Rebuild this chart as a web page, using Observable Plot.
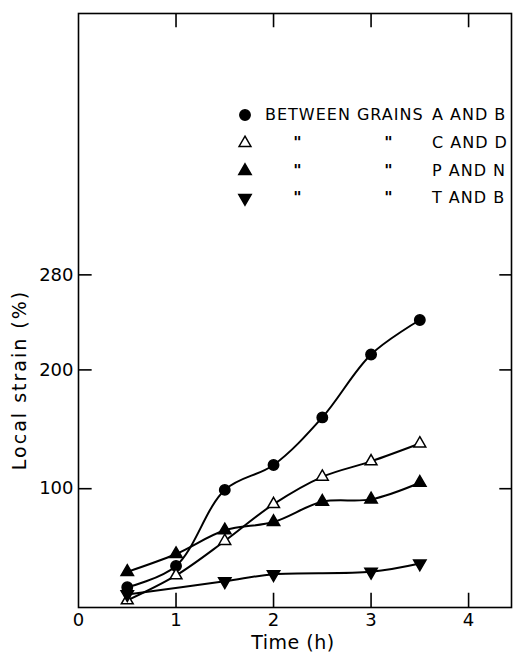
<!DOCTYPE html>
<html>
<head>
<meta charset="utf-8">
<script src="https://cdn.jsdelivr.net/npm/d3@7"></script>
<script src="https://cdn.jsdelivr.net/npm/@observablehq/plot@0.6"></script>
<style>
  html, body { margin: 0; padding: 0; background: #fff; }
  #chart { width: 514px; height: 657px; }
</style>
</head>
<body>
<div id="chart"></div>
<script>
// ---- data ----
const times = [0.5, 1, 1.5, 2, 2.5, 3, 3.5];
const strainAB = [17, 35, 99, 120, 160, 213, 242];
const strainCD = [6, 27, 56, 87, 110, 123, 138];
const strainPN = [30, 45, 65, 72, 89, 91, 105];
const timesTB = [0.5, 1.5, 2, 3, 3.5];
const strainTB = [11, 22, 28, 30, 37];

const xTicks = [0, 1, 2, 3, 4];
const yTicks = [100, 200, 280];
const legendPairs = ["A AND B", "C AND D", "P AND N", "T AND B"];
const legendLead = "BETWEEN GRAINS";
const xLabel = "Time (h)";
const yLabel = "Local strain (%)";

// custom downward triangle symbol
const triangleDown = {
  draw(context, size) {
    const h = Math.sqrt(size / (Math.sqrt(3) * 3));
    const s = h * Math.sqrt(3);
    context.moveTo(0, 2 * h);
    context.lineTo(s, -h);
    context.lineTo(-s, -h);
    context.closePath();
  }
};

const toRows = (xs, ys) => xs.map((t, i) => ({t, v: ys[i]}));
const AB = toRows(times, strainAB);
const CD = toRows(times, strainCD);
const PN = toRows(times, strainPN);
const TB = toRows(timesTB, strainTB);

const lineOpts = {x: "t", y: "v", curve: "catmull-rom", stroke: "black", strokeWidth: 2};

const W = 514, H = 657;
const plot = Plot.plot({
  width: W,
  height: H,
  marginLeft: 78,
  marginRight: 3,
  marginTop: 13,
  marginBottom: 50,
  style: {fontFamily: "DejaVu Sans", fontSize: "18px", background: "#fff", color: "#000"},
  x: {domain: [0, 4.44]},
  y: {domain: [0, 500]},
  marks: [
    Plot.frame({stroke: "black", strokeWidth: 1.6}),
    // inward ticks
    Plot.ruleX(xTicks.slice(1), {x: d => d, y1: 0, y2: 12, stroke: "black", strokeWidth: 1.6}),
    Plot.ruleX(xTicks.slice(1), {x: d => d, y1: 500, y2: 488, stroke: "black", strokeWidth: 1.6}),
    Plot.ruleY(yTicks, {y: d => d, x1: 0, x2: 0.14, stroke: "black", strokeWidth: 1.6}),
    Plot.ruleY(yTicks, {y: d => d, x1: 4.32, x2: 4.44, stroke: "black", strokeWidth: 1.6}),
    Plot.axisX({ticks: xTicks, tickSize: 0, tickPadding: 6, label: null, tickFormat: d => String(d)}),
    Plot.axisY({ticks: yTicks, tickSize: 0, tickPadding: 5, label: null, tickFormat: d => String(d)}),
    // lines
    Plot.line(AB, lineOpts),
    Plot.line(CD, lineOpts),
    Plot.line(PN, lineOpts),
    Plot.line(TB, lineOpts),
    // markers
    Plot.dot(AB, {x: "t", y: "v", symbol: "circle", r: 5.2, fill: "black", stroke: "black"}),
    Plot.dot(CD, {x: "t", y: "v", symbol: "triangle", r: 4.4, fill: "white", stroke: "black", strokeWidth: 1.5}),
    Plot.dot(PN, {x: "t", y: "v", symbol: "triangle", r: 4.6, fill: "black", stroke: "black"}),
    Plot.dot(TB, {x: "t", y: "v", symbol: triangleDown, r: 4.6, fill: "black", stroke: "black"})
  ]
});

document.getElementById("chart").appendChild(plot);

// axis titles and legend
const svg = d3.select(plot);
svg.append("text")
  .attr("x", 293).attr("y", 643)
  .attr("text-anchor", "middle").attr("dominant-baseline", "middle")
  .attr("font-size", 19).attr("letter-spacing", 0.5)
  .text(xLabel);
svg.append("text")
  .attr("transform", "translate(20,380) rotate(-90)")
  .attr("text-anchor", "middle").attr("dominant-baseline", "middle")
  .attr("font-size", 19).attr("letter-spacing", 2)
  .text(yLabel);

const lg = svg.append("g").attr("font-size", 16).attr("letter-spacing", 1).attr("text-anchor", "start");
const rowY = [115, 143, 171, 198];
const symbols = [
  {type: d3.symbolCircle, size: Math.PI * 5.2 * 5.2, fill: "black"},
  {type: d3.symbolTriangle, size: Math.PI * 4.4 * 4.4, fill: "white"},
  {type: d3.symbolTriangle, size: Math.PI * 4.6 * 4.6, fill: "black"},
  {type: triangleDown, size: Math.PI * 4.6 * 4.6, fill: "black"}
];
legendPairs.forEach((pair, i) => {
  const y = rowY[i];
  lg.append("path")
    .attr("transform", `translate(245,${y})`)
    .attr("d", d3.symbol(symbols[i].type, symbols[i].size)())
    .attr("fill", symbols[i].fill).attr("stroke", "black").attr("stroke-width", 1.5);
  if (i === 0) {
    lg.append("text").attr("x", 265).attr("y", y).attr("dominant-baseline", "middle").attr("text-anchor", "start").text(legendLead);
  } else {
    lg.append("text").attr("x", 298).attr("y", y).attr("dominant-baseline", "middle").attr("text-anchor", "middle").attr("font-weight", "bold").text("\"");
    lg.append("text").attr("x", 389).attr("y", y).attr("dominant-baseline", "middle").attr("text-anchor", "middle").attr("font-weight", "bold").text("\"");
  }
  lg.append("text").attr("x", 432).attr("y", y).attr("dominant-baseline", "middle").attr("text-anchor", "start").text(pair);
});
</script>
</body>
</html>
